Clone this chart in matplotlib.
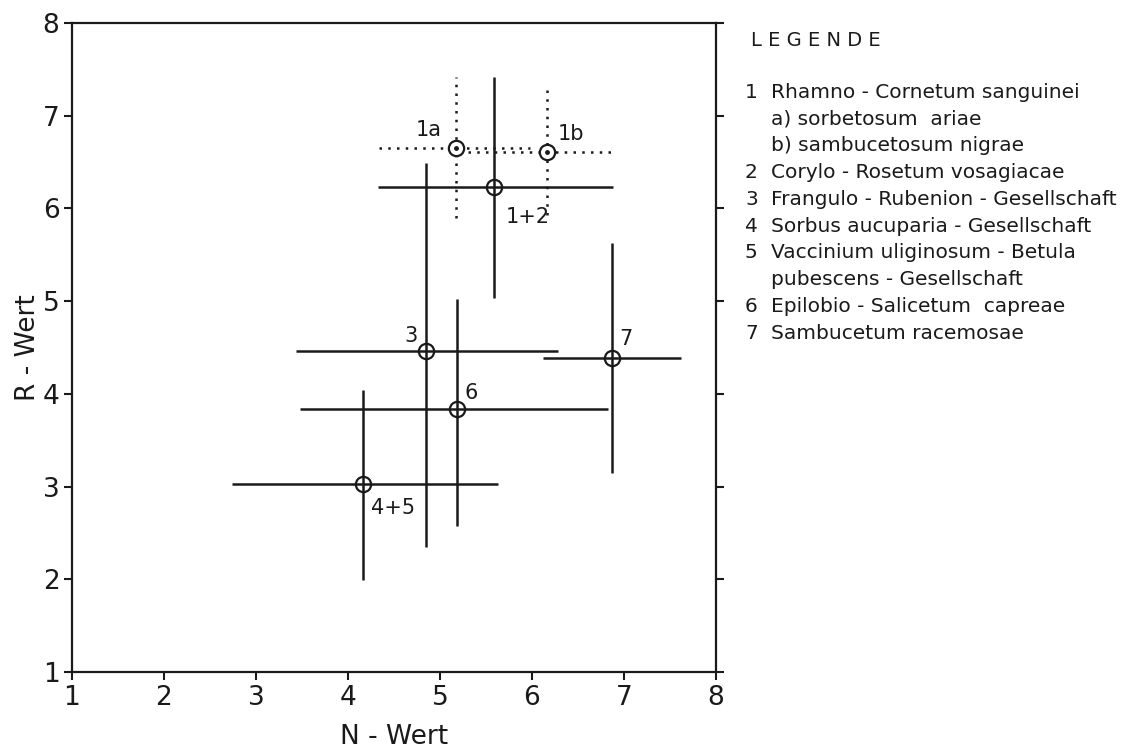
import numpy as np
import matplotlib
matplotlib.use("Agg")
import matplotlib.pyplot as plt

plt.rcParams["font.family"] = ["DejaVu Sans"]

# --- data (N-Wert / R-Wert, centre and range) ---
solid_labels = ["1+2", "3", "6", "7", "4+5"]
solid_n = np.array([5.59, 4.85, 5.18, 6.87, 4.16])
solid_r = np.array([6.23, 4.46, 3.84, 4.39, 3.03])
solid_n_lo = np.array([4.33, 3.43, 3.48, 6.12, 2.74])
solid_n_hi = np.array([6.88, 6.28, 6.83, 7.62, 5.63])
solid_r_lo = np.array([5.03, 2.35, 2.58, 3.15, 1.99])
solid_r_hi = np.array([7.42, 6.49, 5.02, 5.63, 4.04])

dot_labels = ["1a", "1b"]
dot_n = np.array([5.17, 6.16])
dot_r = np.array([6.65, 6.61])
dot_n_lo = np.array([4.34, 5.30])
dot_n_hi = np.array([5.98, 6.88])
dot_r_lo = np.array([5.90, 5.93])
dot_r_hi = np.array([7.42, 7.31])

legend_nums = ["1", "", "", "2", "3", "4", "5", "", "6", "7"]
legend_texts = [
    "Rhamno - Cornetum sanguinei",
    "a) sorbetosum  ariae",
    "b) sambucetosum nigrae",
    "Corylo - Rosetum vosagiacae",
    "Frangulo - Rubenion - Gesellschaft",
    "Sorbus aucuparia - Gesellschaft",
    "Vaccinium uliginosum - Betula",
    "pubescens - Gesellschaft",
    "Epilobio - Salicetum  capreae",
    "Sambucetum racemosae",
]

ink = "#1a1a1a"

fig = plt.figure(figsize=(11.30, 7.49), dpi=100)
ax = fig.add_axes([0.0637, 0.1028, 0.5699, 0.8665])

# solid groups
ax.errorbar(solid_n, solid_r,
            xerr=[solid_n - solid_n_lo, solid_n_hi - solid_n],
            yerr=[solid_r - solid_r_lo, solid_r_hi - solid_r],
            fmt="o", ms=11, mfc="none", mec=ink, mew=1.6,
            ecolor=ink, elinewidth=1.8, capsize=0, zorder=3)

# dotted sub-associations (1a, 1b)
for n, r, nlo, nhi, rlo, rhi in zip(dot_n, dot_r, dot_n_lo, dot_n_hi, dot_r_lo, dot_r_hi):
    ax.plot([nlo, nhi], [r, r], color=ink, lw=1.8, ls=(0, (1, 2.5)), zorder=2)
    ax.plot([n, n], [rlo, rhi], color=ink, lw=1.8, ls=(0, (1, 2.5)), zorder=2)
ax.plot(dot_n, dot_r, "o", ms=11, mfc="white", mec=ink, mew=1.6, zorder=4)
ax.plot(dot_n, dot_r, "o", ms=2.5, color=ink, zorder=5)

# point labels
lab_kw = dict(fontsize=15, color=ink)
offsets = {"1+2": (8, -14, "left", "top"), "3": (-6, 4, "right", "bottom"),
           "6": (6, 4, "left", "bottom"), "7": (5, 6, "left", "bottom"),
           "4+5": (6, -10, "left", "top"), "1a": (-10, 6, "right", "bottom"),
           "1b": (8, 6, "left", "bottom")}
for lab, n, r in list(zip(solid_labels, solid_n, solid_r)) + list(zip(dot_labels, dot_n, dot_r)):
    dx, dy, ha, va = offsets[lab]
    ax.annotate(lab, (n, r), xytext=(dx, dy), textcoords="offset points",
                ha=ha, va=va, **lab_kw)

ax.set_xlim(1, 8)
ax.set_ylim(1, 8)
ax.set_xticks(range(1, 9))
ax.set_yticks(range(1, 9))
ax.tick_params(axis="both", direction="out", length=6, width=1.5,
               labelsize=19, colors=ink, pad=3)
ax.tick_params(axis="y", right=True)
for s in ax.spines.values():
    s.set_linewidth(1.6)
    s.set_color(ink)

ax.set_xlabel("N - Wert", fontsize=19, color=ink, labelpad=10)
ax.set_ylabel("R - Wert", fontsize=19, color=ink, labelpad=1)

# legend block
fig.text(751 / 1130, 1 - 40 / 749, "L E G E N D E", fontsize=14, color=ink,
         ha="left", va="center")
y0 = 92
for i, (num, txt) in enumerate(zip(legend_nums, legend_texts)):
    y = 1 - (y0 + i * 26.8) / 749
    fig.text(745 / 1130, y, num, fontsize=14.5, color=ink, ha="left", va="center")
    fig.text(771 / 1130, y, txt, fontsize=14.5, color=ink, ha="left", va="center")

fig.savefig("out.png", dpi=100, facecolor="white")
